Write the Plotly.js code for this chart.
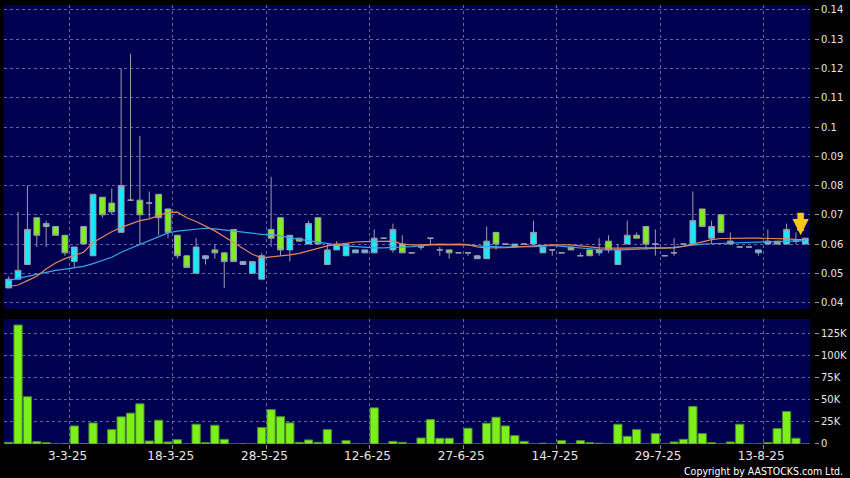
<!DOCTYPE html>
<html>
<head>
<meta charset="utf-8">
<script src="https://cdn.plot.ly/plotly-3.0.1.min.js"></script>
<style>
html,body{margin:0;padding:0;background:#000;}
#chart{width:850px;height:478px;}
</style>
</head>
<body>
<div id="chart"></div>
<script>
// ---- data (one entry per trading day, left to right) ----
const openP = [0.045,0.048,0.053,0.069,0.066,0.066,0.063,0.054,0.066,0.056,
  0.076,0.074,0.064,0.075,0.075,0.074,0.077,0.072,0.063,0.056,
  0.050,0.055,0.058,0.057,0.065,0.053,0.050,0.048,0.065,0.069,
  0.058,0.062,0.060,0.069,0.053,0.058,0.056,0.057,0.057,0.057,
  0.062,0.058,0.060,0.057,0.059,0.062,0.058,0.058,0.057,0.057,
  0.055,0.055,0.064,0.060,0.059,0.060,0.060,0.057,0.058,0.057,
  0.059,0.056,0.058,0.057,0.061,0.053,0.060,0.063,0.066,0.060,
  0.056,0.057,0.060,0.060,0.072,0.062,0.070,0.061,0.059,0.059,
  0.057,0.060,0.061,0.060,0.061,0.060];
const highP = [0.049,0.071,0.080,0.069,0.068,0.066,0.063,0.059,0.066,0.077,
  0.076,0.079,0.120,0.125,0.097,0.078,0.077,0.072,0.063,0.056,
  0.062,0.056,0.060,0.057,0.065,0.054,0.054,0.057,0.083,0.069,
  0.063,0.062,0.068,0.069,0.060,0.061,0.060,0.058,0.058,0.065,
  0.062,0.067,0.063,0.057,0.060,0.062,0.059,0.058,0.057,0.057,
  0.056,0.066,0.064,0.060,0.060,0.060,0.068,0.059,0.058,0.057,
  0.059,0.057,0.058,0.062,0.063,0.060,0.068,0.064,0.066,0.065,
  0.056,0.062,0.060,0.078,0.072,0.068,0.070,0.064,0.059,0.059,
  0.058,0.065,0.061,0.067,0.064,0.062];
const lowP = [0.045,0.048,0.053,0.059,0.059,0.063,0.056,0.052,0.060,0.056,
  0.069,0.070,0.064,0.075,0.060,0.069,0.063,0.062,0.055,0.052,
  0.050,0.053,0.055,0.045,0.054,0.053,0.050,0.048,0.059,0.056,
  0.054,0.061,0.060,0.060,0.053,0.058,0.056,0.057,0.057,0.057,
  0.062,0.057,0.057,0.057,0.058,0.060,0.056,0.055,0.057,0.056,
  0.055,0.055,0.058,0.060,0.059,0.060,0.060,0.057,0.056,0.057,
  0.058,0.056,0.056,0.056,0.057,0.053,0.060,0.062,0.058,0.056,
  0.056,0.056,0.060,0.060,0.066,0.060,0.064,0.060,0.059,0.059,
  0.056,0.060,0.060,0.060,0.060,0.060];
const closeP = [0.048,0.051,0.065,0.063,0.067,0.063,0.057,0.059,0.060,0.077,
  0.070,0.071,0.080,0.075,0.070,0.074,0.069,0.064,0.056,0.052,
  0.059,0.056,0.057,0.054,0.054,0.054,0.054,0.056,0.062,0.058,
  0.063,0.061,0.067,0.060,0.058,0.060,0.060,0.058,0.058,0.062,
  0.062,0.065,0.057,0.057,0.059,0.062,0.058,0.057,0.057,0.057,
  0.056,0.061,0.060,0.060,0.060,0.060,0.064,0.059,0.058,0.057,
  0.058,0.056,0.056,0.058,0.058,0.058,0.063,0.062,0.060,0.060,
  0.056,0.057,0.060,0.068,0.066,0.066,0.064,0.060,0.059,0.059,
  0.058,0.061,0.060,0.065,0.061,0.062];
const maShort = [0.0455,0.0460,0.0475,0.0490,0.0515,0.0535,0.0550,0.0560,0.0572,0.0605,
  0.0625,0.0642,0.0657,0.0668,0.0680,0.0686,0.0698,0.0708,0.0709,0.0690,
  0.0677,0.0662,0.0645,0.0625,0.0605,0.0585,0.0565,0.0553,0.0556,0.0560,
  0.0563,0.0568,0.0577,0.0585,0.0594,0.0598,0.0603,0.0607,0.0608,0.0609,
  0.0611,0.0610,0.0600,0.0597,0.0597,0.0599,0.0600,0.0599,0.0600,0.0598,
  0.0590,0.0587,0.0587,0.0588,0.0590,0.0592,0.0594,0.0596,0.0597,0.0597,
  0.0597,0.0594,0.0590,0.0587,0.0586,0.0585,0.0586,0.0587,0.0588,0.0587,
  0.0586,0.0587,0.0592,0.0600,0.0609,0.0615,0.0619,0.0620,0.0620,0.0620,
  0.0620,0.0620,0.0619,0.0618,0.0616,0.0615];
const maLong = [0.0476,0.0483,0.0490,0.0497,0.0505,0.0510,0.0514,0.0518,0.0524,0.0533,
  0.0543,0.0555,0.0572,0.0585,0.0600,0.0612,0.0625,0.0638,0.0644,0.0648,
  0.0652,0.0654,0.0652,0.0648,0.0645,0.0640,0.0635,0.0633,0.0632,0.0628,
  0.0621,0.0616,0.0612,0.0608,0.0602,0.0597,0.0594,0.0591,0.0588,0.0587,
  0.0587,0.0588,0.0589,0.0591,0.0594,0.0597,0.0597,0.0597,0.0597,0.0597,
  0.0594,0.0592,0.0590,0.0590,0.0590,0.0590,0.0591,0.0593,0.0595,0.0592,
  0.0590,0.0587,0.0584,0.0581,0.0580,0.0580,0.0581,0.0582,0.0584,0.0585,
  0.0587,0.0589,0.0593,0.0597,0.0600,0.0601,0.0602,0.0603,0.0603,0.0604,
  0.0605,0.0606,0.0607,0.0609,0.0611,0.0612];
const volume = [1900,135000,53600,2700,1500,0,300,20500,300,23900,
  0,16300,30800,35000,45600,3400,27000,2300,4900,0,
  22400,1500,21300,5300,0,300,0,18600,39000,31000,
  24000,1900,4600,1900,16300,0,3800,0,0,41000,
  0,3000,1900,0,6800,27700,6500,6500,0,17900,
  0,23600,30400,20500,9500,3000,0,800,0,3800,
  0,3800,1500,800,0,22400,8700,16300,0,11800,
  0,2300,5300,42600,11800,1500,0,2300,22400,0,
  0,1500,17500,36900,6500,0];
const dateTickPos = [6.5,17.5,27.5,38.5,48.5,58.5,69.5,80.5];
const dateTickText = ['3-3-25','18-3-25','28-5-25','12-6-25','27-6-25','14-7-25','29-7-25','13-8-25'];
const priceTickVals = [0.04,0.05,0.06,0.07,0.08,0.09,0.10,0.11,0.12,0.13,0.14];
const priceTickText = ['0.04','0.05','0.06','0.07','0.08','0.09','0.1','0.11','0.12','0.13','0.14'];
const volTickVals = [0,25000,50000,75000,100000,125000];
const volTickText = ['0','25K','50K','75K','100K','125K'];

const idx = closeP.map((_, i) => i);
const last = idx.length - 1;

const gridCol = 'rgba(125,135,185,0.75)';
const tickFontY = {family: 'DejaVu Sans, sans-serif', size: 10, color: '#e6e6e6'};

const traces = [
  {
    type: 'candlestick', x: idx, open: openP, high: highP, low: lowP, close: closeP,
    xaxis: 'x', yaxis: 'y', whiskerwidth: 0,
    increasing: {line: {color: '#9c9cae', width: 1}, fillcolor: '#19e8ff'},
    decreasing: {line: {color: '#9c9cae', width: 1}, fillcolor: '#7cf01a'},
    hoverinfo: 'skip'
  },
  {type: 'scatter', mode: 'lines', x: idx, y: maLong, xaxis: 'x', yaxis: 'y',
   line: {color: '#3aa6e6', width: 1.2}, hoverinfo: 'skip'},
  {type: 'scatter', mode: 'lines', x: idx, y: maShort, xaxis: 'x', yaxis: 'y',
   line: {color: '#e4845a', width: 1.2}, hoverinfo: 'skip'},
  {type: 'bar', x: idx, y: volume, xaxis: 'x', yaxis: 'y2',
   marker: {color: '#7cf01a', line: {color: '#4f8a2a', width: 1}}, hoverinfo: 'skip'}
];

const xDomainEnd = 806 / 810;

const layout = {
  width: 850, height: 478,
  margin: {l: 4, r: 36, t: 5, b: 34, pad: 0},
  paper_bgcolor: '#000000', plot_bgcolor: '#000050',
  showlegend: false, hovermode: false,
  bargap: 0.12, boxgap: 0.12,
  xaxis: {
    domain: [0, xDomainEnd], anchor: 'y2', range: [-0.5, 85.5],
    rangeslider: {visible: false},
    tickmode: 'array', tickvals: dateTickPos, ticktext: dateTickText,
    ticks: 'outside', ticklen: 4, tickcolor: '#8a8a8a',
    ticklabelstandoff: -3, ticklabelshift: -2,
    tickfont: {family: 'DejaVu Sans, sans-serif', size: 12, color: '#e6e6e6'},
    showgrid: true, gridcolor: gridCol, griddash: '3px,3px', gridwidth: 1,
    zeroline: false, showline: false, fixedrange: true
  },
  yaxis: {
    domain: [0.3075, 1], side: 'right', anchor: 'free', position: 1,
    range: [0.0378, 0.1417],
    tickmode: 'array', tickvals: priceTickVals, ticktext: priceTickText,
    ticks: 'outside', ticklen: 4, tickcolor: '#9a9a9a', tickfont: tickFontY,
    showgrid: true, gridcolor: gridCol, griddash: '3px,3px', gridwidth: 1,
    zeroline: false, showline: false, fixedrange: true
  },
  yaxis2: {
    domain: [0, 0.2847], side: 'right', anchor: 'free', position: 1,
    range: [0, 141800],
    tickmode: 'array', tickvals: volTickVals, ticktext: volTickText,
    ticks: 'outside', ticklen: 4, tickcolor: '#9a9a9a', tickfont: tickFontY,
    showgrid: true, gridcolor: gridCol, griddash: '3px,3px', gridwidth: 1,
    zeroline: false, showline: false, fixedrange: true
  },
  annotations: [
    {
      x: last - 0.5, y: highP[last], xref: 'x', yref: 'y', text: '',
      showarrow: true, ax: 0, ay: -27, standoff: 3,
      arrowhead: 2, arrowsize: 0.5, arrowwidth: 6.5, arrowcolor: '#f5c815'
    },
    {
      x: 1.0385, y: -0.0615, xref: 'paper', yref: 'paper', xanchor: 'right', yanchor: 'middle',
      text: 'Copyright by AASTOCKS.com Ltd.', showarrow: false,
      font: {family: 'DejaVu Sans Condensed, DejaVu Sans, sans-serif', size: 10.5, color: '#ffffff'}
    }
  ]
};

Plotly.newPlot('chart', traces, layout, {displayModeBar: false, staticPlot: true});
</script>
</body>
</html>
